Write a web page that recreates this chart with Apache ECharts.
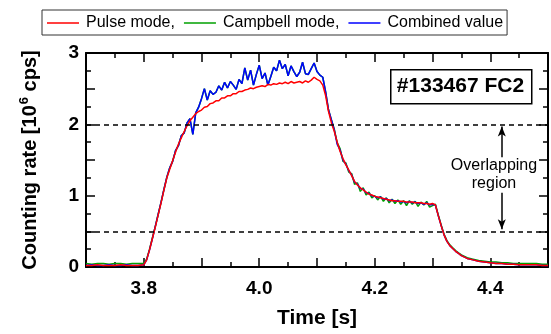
<!DOCTYPE html>
<html lang="en">
<head>
	<meta charset="UTF-8">
	<title>Counting rate #133467 FC2</title>
	<style>
		html,body{margin:0px;padding:0px;background:#fff;}
		#main{width:551px;height:334px;}
	</style>
</head>
<body>
	<div id="main"></div>
</body>
</html>
<script type="text/javascript" src="https://cdn.jsdelivr.net/npm/echarts@6/dist/echarts.min.js"></script>
<script type="text/javascript">
	// time [s]
	var time = [
		3.70,3.71,3.72,3.73,3.74,3.75,3.76,3.77,3.78,3.79,
		3.800,3.805,3.810,3.815,3.820,3.825,3.830,3.835,3.840,3.845,
		3.850,3.855,3.860,3.865,3.870,3.875,3.880,3.885,3.890,3.895,
		3.900,3.905,3.910,3.915,3.920,3.925,3.930,3.935,3.940,3.945,
		3.950,3.955,3.960,3.965,3.970,3.975,3.980,3.985,3.990,3.995,
		4.000,4.005,4.010,4.015,4.020,4.025,4.030,4.035,4.040,4.045,
		4.050,4.055,4.060,4.065,4.070,4.075,4.080,4.085,4.090,4.095,
		4.100,4.105,4.110,4.115,4.120,4.125,4.130,4.135,4.140,4.145,
		4.150,4.155,4.160,4.165,4.170,4.175,4.180,4.185,4.190,4.195,
		4.200,4.205,4.210,4.215,4.220,4.225,4.230,4.235,4.240,4.245,
		4.250,4.255,4.260,4.265,4.270,4.275,4.280,4.285,4.290,4.295,
		4.300,4.305,4.310,4.315,4.320,4.325,4.330,4.335,4.340,4.345,
		4.350,
		4.36,4.37,4.38,4.39,4.40,4.41,4.42,4.43,4.44,4.45,4.46,4.47,4.48,4.49,4.50
	];
	// pulse mode [10^6 cps]
	var pulse = [
		0.02,0.02,0.03,0.02,0.02,0.02,0.03,0.02,0.02,0.02,
		0.03,0.10,0.24,0.40,0.56,0.73,0.90,1.08,1.25,1.37,
		1.49,1.61,1.72,1.81,1.90,1.98,2.05,2.10,2.15,2.18,
		2.20,2.24,2.25,2.29,2.30,2.33,2.33,2.37,2.37,2.40,
		2.40,2.43,2.43,2.46,2.46,2.48,2.49,2.51,2.50,2.52,
		2.53,2.54,2.53,2.56,2.55,2.57,2.56,2.58,2.57,2.59,
		2.57,2.60,2.58,2.59,2.60,2.58,2.61,2.59,2.62,2.66,
		2.63,2.61,2.55,2.40,2.18,2.02,1.90,1.75,1.62,1.52,
		1.43,1.36,1.28,1.20,1.15,1.11,1.08,1.05,1.02,1.01,
		0.99,0.98,0.97,0.96,0.95,0.94,0.93,0.93,0.92,0.92,
		0.92,0.91,0.91,0.91,0.90,0.90,0.90,0.89,0.89,0.88,
		0.89,0.87,0.72,0.58,0.45,0.36,0.30,0.26,0.22,0.19,
		0.16,
		0.12,0.10,0.08,0.07,0.06,0.05,0.05,0.04,0.04,0.03,0.03,0.03,0.03,0.02,0.02
	];
	// campbell mode
	var campbell = [
		0.05,0.04,0.05,0.05,0.04,0.05,0.05,0.04,0.05,0.05,
		0.05,0.11,0.25,0.41,0.57,0.74,0.91,1.09,1.26,1.39,
		1.48,1.63,1.70,1.84,1.88,2.02,2.08,1.86,2.16,2.24,
		2.36,2.50,2.34,2.47,2.42,2.45,2.54,2.48,2.59,2.51,
		2.60,2.55,2.49,2.63,2.57,2.79,2.62,2.76,2.55,2.70,
		2.83,2.64,2.72,2.55,2.67,2.80,2.75,2.90,2.78,2.84,
		2.68,2.82,2.74,2.67,2.73,2.87,2.71,2.70,2.78,2.86,
		2.74,2.69,2.66,2.45,2.20,2.06,1.93,1.74,1.66,1.48,
		1.46,1.33,1.31,1.16,1.18,1.06,1.11,1.01,1.05,0.97,
		1.00,0.94,0.99,0.92,0.97,0.90,0.95,0.89,0.94,0.88,
		0.93,0.86,0.93,0.88,0.92,0.85,0.91,0.87,0.92,0.84,
		0.86,0.88,0.73,0.59,0.46,0.37,0.31,0.27,0.23,0.20,
		0.17,
		0.13,0.11,0.09,0.08,0.07,0.07,0.06,0.06,0.05,0.05,0.05,0.05,0.05,0.04,0.04
	];
	// combined value
	var combined = [
		0.02,0.03,0.02,0.02,0.03,0.02,0.02,0.03,0.02,0.02,
		0.03,0.10,0.24,0.40,0.57,0.74,0.91,1.09,1.26,1.39,
		1.48,1.63,1.70,1.84,1.88,2.02,2.08,1.86,2.16,2.24,
		2.36,2.50,2.34,2.47,2.42,2.45,2.54,2.48,2.59,2.51,
		2.60,2.55,2.49,2.63,2.57,2.79,2.62,2.76,2.55,2.70,
		2.83,2.64,2.72,2.55,2.67,2.80,2.75,2.90,2.78,2.84,
		2.68,2.82,2.74,2.67,2.73,2.87,2.71,2.70,2.78,2.86,
		2.74,2.69,2.66,2.45,2.20,2.06,1.92,1.72,1.64,1.50,
		1.44,1.35,1.29,1.19,1.16,1.10,1.09,1.04,1.03,1.00,
		0.99,0.97,0.98,0.95,0.96,0.93,0.94,0.92,0.93,0.91,
		0.92,0.90,0.92,0.90,0.91,0.89,0.90,0.88,0.90,0.87,
		0.88,0.87,0.72,0.58,0.45,0.36,0.30,0.26,0.22,0.19,
		0.16,
		0.12,0.10,0.08,0.07,0.06,0.05,0.05,0.04,0.04,0.03,0.03,0.03,0.03,0.02,0.02
	];
	var names = ['Pulse mode,','Campbell mode,','Combined value'];
	var overlapLow = 0.5, overlapHigh = 2;

	function pairs(vals){
		var out = [];
		vals.forEach(function(v,i){ out.push([time[i], v]); });
		return out;
	}

	var font = 'Liberation Sans, Arial, sans-serif';
	var tickCfg = {inside:true, length:9, lineStyle:{color:'#000', width:1.5}};
	var minorCfg = {show:true, splitNumber:2, length:5, lineStyle:{color:'#000', width:1.5}};
	var lineCfg = {onZero:false, lineStyle:{color:'#000', width:2}};

	var option = {
		animation:false,
		backgroundColor:'#fff',
		legend:{
			data:names,
			icon:'rect',
			left:42, top:10,
			itemWidth:32, itemHeight:1.5, itemGap:9,
			padding:[5,4,4,5],
			borderColor:'#333', borderWidth:1,
			textStyle:{fontSize:16, color:'#000', fontFamily:font, lineHeight:16, padding:[0,0,0,2]}
		},
		grid:{left:86, right:2, top:53, bottom:67},
		xAxis:[{
			type:'value', min:3.7, max:4.5, interval:0.1,
			axisLine:lineCfg, axisTick:tickCfg, minorTick:minorCfg,
			splitLine:{show:false},
			axisLabel:{
				margin:12, fontSize:19, fontWeight:'bold', color:'#000', fontFamily:font,
				formatter:function(v){ return Math.round(v*10)%2===0 ? v.toFixed(1) : ''; }
			},
			name:'Time [s]', nameLocation:'middle', nameGap:41,
			nameTextStyle:{fontSize:21, fontWeight:'bold', color:'#000', fontFamily:font}
		},{
			type:'value', min:3.7, max:4.5, interval:0.1, position:'top',
			axisLine:lineCfg, axisTick:tickCfg, minorTick:minorCfg,
			splitLine:{show:false}, axisLabel:{show:false}
		}],
		yAxis:[{
			type:'value', min:0, max:3, interval:0.5,
			axisLine:lineCfg, axisTick:tickCfg, minorTick:minorCfg,
			splitLine:{show:false},
			axisLabel:{
				margin:7, fontSize:19, fontWeight:'bold', color:'#000', fontFamily:font,
				formatter:function(v){ return v%1===0 ? String(v) : ''; }
			},
			name:'{a|Counting rate [10}{b|6}{a| cps]}', nameLocation:'middle', nameGap:44,
			nameTextStyle:{
				fontFamily:font, color:'#000',
				rich:{
					a:{fontSize:20, fontWeight:'bold', fontFamily:font, color:'#000', lineHeight:24},
					b:{fontSize:13, fontWeight:'bold', fontFamily:font, color:'#000', verticalAlign:'top', lineHeight:24, padding:[0,0,0,1]}
				}
			}
		},{
			type:'value', min:0, max:3, interval:0.5, position:'right',
			axisLine:lineCfg, axisTick:tickCfg, minorTick:minorCfg,
			splitLine:{show:false}, axisLabel:{show:false}
		}],
		series:[{
			name:names[1], type:'line', data:pairs(campbell), symbol:'none',
			lineStyle:{color:'#00a000', width:1.5}, itemStyle:{color:'#00a000'}
		},{
			name:names[2], type:'line', data:pairs(combined), symbol:'none',
			lineStyle:{color:'#0000ff', width:1.5}, itemStyle:{color:'#0000ff'}
		},{
			name:names[0], type:'line', data:pairs(pulse), symbol:'none',
			lineStyle:{color:'#ff0000', width:1.5}, itemStyle:{color:'#ff0000'},
			markLine:{
				silent:true, symbol:'none', label:{show:false},
				lineStyle:{color:'#000', width:1.5, type:[5,4]},
				data:[
					{yAxis:overlapHigh},
					{yAxis:overlapLow},
					[{coord:[4.42,1.54], symbol:'none', lineStyle:{type:'solid', color:'#000', width:1.5}},
					 {coord:[4.42,1.97], symbol:'arrow', symbolSize:[6,10]}],
					[{coord:[4.42,1.04], symbol:'none', lineStyle:{type:'solid', color:'#000', width:1.5}},
					 {coord:[4.42,0.53], symbol:'arrow', symbolSize:[6,10]}]
				]
			}
		}],
		graphic:[{
			type:'rect', left:390, top:69,
			shape:{width:141, height:34},
			style:{fill:'#fff', stroke:'#000', lineWidth:1.5}
		},{
			type:'text', x:460.5, y:86,
			style:{text:'#133467 FC2', fontSize:21, fontWeight:'bold', fontFamily:font, fill:'#000', textAlign:'center', textVerticalAlign:'middle'}
		},{
			type:'text', x:494, y:175,
			style:{text:'Overlapping\nregion', fontSize:16, lineHeight:18, fontFamily:font, fill:'#000', textAlign:'center', textVerticalAlign:'middle'}
		}]
	};
	var myChart = echarts.init(document.getElementById('main'));
	myChart.setOption(option);
</script>
